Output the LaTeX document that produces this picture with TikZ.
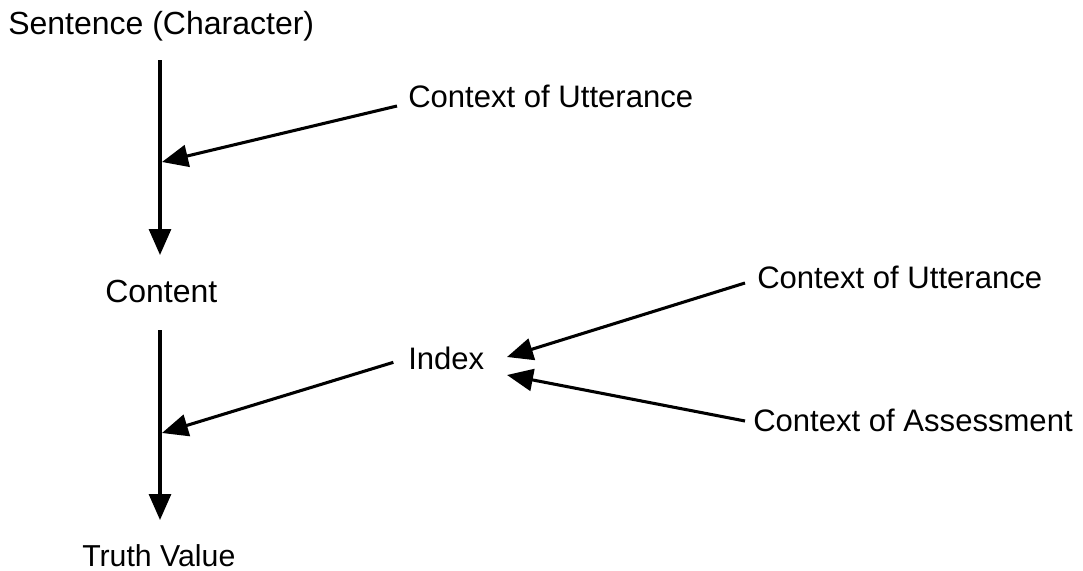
\documentclass[tikz,border=0pt]{standalone}
\usepackage{fontspec}
\setmainfont{Liberation Sans}
\usetikzlibrary{arrows.meta}
\begin{document}
\begin{tikzpicture}[x=0.75pt,y=-0.75pt,
  lbl/.style={anchor=base west,inner sep=0pt,font=\fontsize{24}{28}\selectfont},
  lblsm/.style={lbl,font=\fontsize{23.3}{28}\selectfont},
  arr/.style={line width=2.3pt,-{Triangle[length=19.5pt,width=16.5pt]}}]
\useasboundingbox (0,0) rectangle (1083,571);
% labels
\node[lbl] (sent) at (8,34) {Sentence (Character)};
\node[lblsm] (cu1) at (408,107) {Context of Utterance};
\node[lbl] (cont) at (105,302) {Content};
\node[lblsm] (idx) at (408,369) {Index};
\node[lblsm] (cu2) at (757,288) {Context of Utterance};
\node[lblsm] (ca) at (753,431) {Context of Assessment};
\node[lbl,font=\fontsize{22.7}{28}\selectfont] (tv) at (82,566) {Truth Value};
% points on the main chain where the side inputs arrive
\coordinate (m1) at (162,162);
\coordinate (m2) at (162,433);
\coordinate (i1) at (507,357);
\coordinate (i2) at (507,375);
% main chain
\draw[arr] (160,60) -- (160,255);
\draw[arr] (160,330) -- (160,520);
% side inputs
\draw[arr] ([xshift=-8.25pt,yshift=0.75pt]cu1.base west) -- (m1);
\draw[arr] ([xshift=-11pt,yshift=5pt]idx.base west) -- (m2);
\draw[arr] ([xshift=-9pt,yshift=3.75pt]cu2.base west) -- (i1);
\draw[arr] ([xshift=-6pt,yshift=7.5pt]ca.base west) -- (i2);
\end{tikzpicture}
\end{document}
